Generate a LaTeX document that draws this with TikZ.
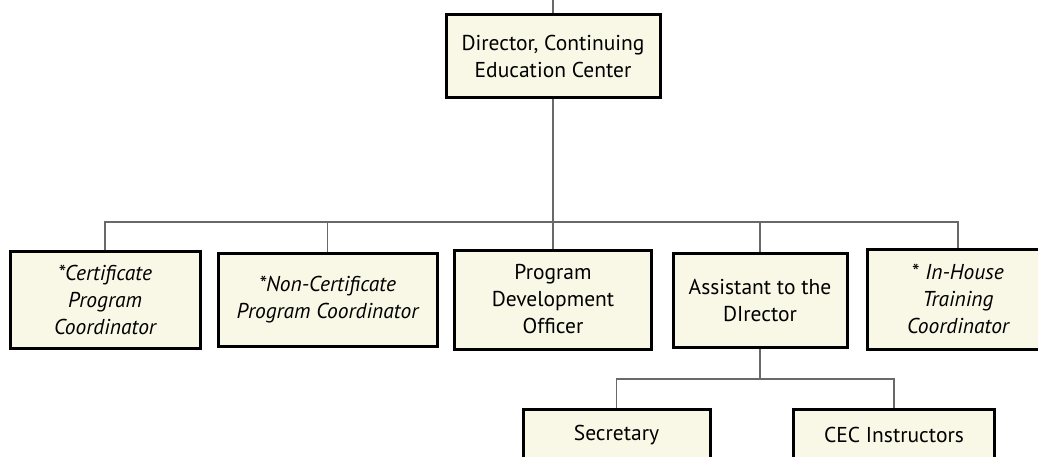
\documentclass[tikz,border=0pt]{standalone}
\usepackage{fontspec}
\setmainfont{PT Sans}

\definecolor{boxcream}{RGB}{249,248,230}
\definecolor{linegray}{RGB}{105,105,105}

\tikzset{
    post/.style={draw=black, fill=boxcream, rectangle, line width=3pt, inner sep=0pt, align=center,
        font=\fontsize{21.5}{27}\selectfont},
    link/.style={draw=linegray, line width=1.4pt}
}

\begin{document}
\begin{tikzpicture}[x=1pt, y=-1pt]
        \useasboundingbox (0,0) rectangle (1038,457);

        % Top of the chart
        \node[post, minimum width=214pt, minimum height=83pt] (director) at (553,56.5) {Director, Continuing\\Education Center};

        % Second row
        \node[post, minimum width=190pt, minimum height=97pt] (certificate) at (105,299.5) {\itshape *Certificate\\\itshape Program\\\itshape Coordinator};
        \node[post, minimum width=219pt, minimum height=93pt] (noncertificate) at (327.5,299.5) {\itshape *Non-Certificate\\\itshape Program Coordinator};
        \node[post, minimum width=197pt, minimum height=99pt] (development) at (553,299.5) {Program\\Development\\Officer};
        \node[post, minimum width=174pt, minimum height=94pt] (assistant) at (760,300) {Assistant to the\\DIrector};
        \node[post, minimum width=182pt, minimum height=100pt] (inhouse) at (958,299) {* \textit{In-House}\\\itshape Training\\\itshape Coordinator};

        % Third row, cut by the bottom edge
        \node[post, minimum width=187pt, minimum height=52pt] (secretary) at (616.5,435) {Secretary};
        \node[post, minimum width=201pt, minimum height=52pt] (instructors) at (894,435) {CEC Instructors};

        % Connecting lines
        \coordinate (topend) at (553,0);
        \coordinate (bus) at (553,222);
        \coordinate (subbus) at (760,379);
        \draw[link] (topend) -- (director.north);
        \draw[link] (director.south) -- (development.north);
        \draw[link] (certificate.north) |- (bus) -| (inhouse.north);
        \draw[link] (noncertificate.north) -- (noncertificate.north |- bus);
        \draw[link] (assistant.north) -- (assistant.north |- bus);
        \draw[link] (assistant.south) -- (subbus);
        \draw[link] (secretary.north) |- (subbus) -| (instructors.north);
    \end{tikzpicture}
\end{document}
